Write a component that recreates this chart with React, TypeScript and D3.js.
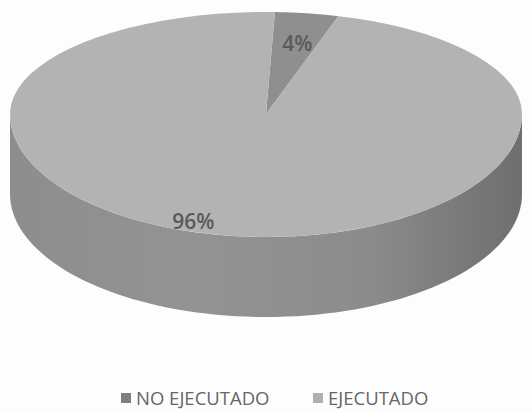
import React from "react";
import * as d3 from "d3";

const categories = ["NO EJECUTADO", "EJECUTADO"];
const values = [4, 96];
const labels = ["4%", "96%"];
const colors = ["#8f8f8f", "#b3b3b3"];
const sideColors = ["#7a7a7a", "#939393"];
const legendColors = ["#7f7f7f", "#b0b0b0"];

const W = 532;
const H = 411;

// projected disk (Excel style 3D pie, front half looks taller than the back)
const cx = 266;
const cy = 114;
const rx = 256;
const ryBack = 102;
const ryFront = 123;
const depth = 80;

function project(a: number, r: number, dy = 0): [number, number] {
  const sx = Math.sin(a);
  const cz = Math.cos(a);
  const ry = cz > 0 ? ryBack : ryFront;
  return [cx + rx * r * sx, cy - ry * r * cz + dy];
}

function arcPts(a0: number, a1: number, dy = 0, steps = 80) {
  const pts: [number, number][] = [];
  for (let i = 0; i <= steps; i++) {
    pts.push(project(a0 + ((a1 - a0) * i) / steps, 1, dy));
  }
  return pts;
}

export default function App() {
  const pie = d3
    .pie<number>()
    .sort(null)
    .startAngle((2 * Math.PI) / 180)
    .endAngle((2 * Math.PI) / 180 + 2 * Math.PI);
  const arcs = pie(values);
  const line = d3.line();

  // visible side band: front half between 90deg and 270deg
  const sides = arcs.map((d) => {
    const a0 = Math.max(d.startAngle, Math.PI / 2);
    const a1 = Math.min(d.endAngle, (3 * Math.PI) / 2);
    if (a1 <= a0) return null;
    const top = arcPts(a0, a1);
    const bot = arcPts(a1, a0, depth);
    return line([...top, ...bot]) + "Z";
  });

  const tops = arcs.map((d) => {
    const pts = [project(0, 0), ...arcPts(d.startAngle, d.endAngle)];
    return line(pts) + "Z";
  });

  // label anchors: angle nudge and radius fraction, Excel style placement
  const labelNudge = [0.02, 0.15];
  const labelR = [0.68, 0.93];

  const legendX = d3.scalePoint().domain(categories).range([121, 313]);

  return (
    <svg width={W} height={H} style={{ position: "absolute", left: 0, top: 0, background: "#fdfdfd" }}>
      <defs>
        <linearGradient id="sideGrad" x1="0" x2="1" y1="0" y2="0">
          <stop offset="0" stopColor="#000" stopOpacity="0.04" />
          <stop offset="0.35" stopColor="#000" stopOpacity="0" />
          <stop offset="0.7" stopColor="#000" stopOpacity="0.05" />
          <stop offset="1" stopColor="#000" stopOpacity="0.25" />
        </linearGradient>
      </defs>
      {sides.map((p, i) =>
        p ? <path key={"s" + i} d={p} fill={sideColors[i]} /> : null
      )}
      <path
        d={line([...arcPts(Math.PI / 2, (3 * Math.PI) / 2), ...arcPts((3 * Math.PI) / 2, Math.PI / 2, depth)]) + "Z"}
        fill="url(#sideGrad)"
      />
      {tops.map((p, i) => (
        <path key={"t" + i} d={p} fill={colors[i]} />
      ))}
      {arcs.map((d, i) => {
        const mid = (d.startAngle + d.endAngle) / 2 + labelNudge[i];
        const [x, y] = project(mid, labelR[i]);
        return (
          <text
            key={"l" + i}
            x={x}
            y={y}
            textAnchor="middle"
            dominantBaseline="middle"
            fontFamily="Open Sans, sans-serif"
            fontWeight="600"
            fontSize={21}
            fill="#5a5a5a"
          >
            {labels[i]}
          </text>
        );
      })}
      {categories.map((c, i) => (
        <g key={c} transform={`translate(${legendX(c)}, 392)`}>
          <rect x={0} y={1} width={10} height={10} fill={legendColors[i]} />
          <text x={15} y={13} fontFamily="Open Sans, sans-serif" fontSize={18.5} fill="#666">
            {c}
          </text>
        </g>
      ))}
    </svg>
  );
}
